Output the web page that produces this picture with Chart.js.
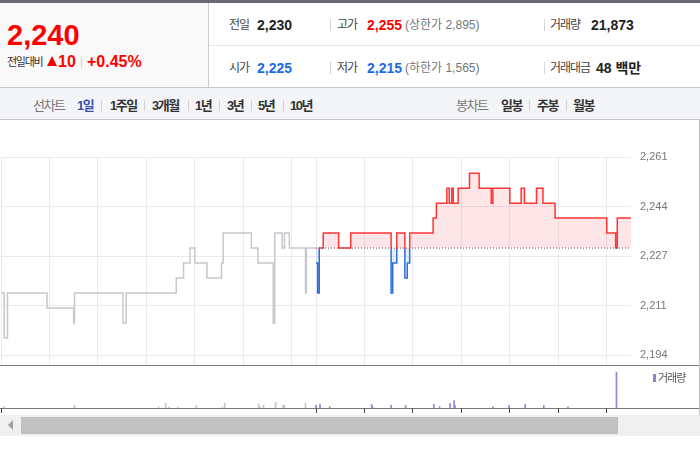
<!DOCTYPE html>
<html><head><meta charset="utf-8">
<script src="https://cdn.jsdelivr.net/npm/chart.js@4"></script>
<style>
body{margin:0;width:700px;height:450px;overflow:hidden;background:#fff;position:relative;font-family:"Liberation Sans","Noto Sans CJK KR",sans-serif}
div,span{position:absolute;white-space:nowrap;line-height:1}
.lb{font-size:12px;color:#444;letter-spacing:-1px}
.v{font-size:14px;font-weight:bold;color:#222}
.g{font-size:12px;color:#777}
.sep{width:1px;background:#d6d6d6}
.tab{font-size:13px;font-weight:bold;color:#333;letter-spacing:-1.5px;top:99px}
.tsep{width:1px;height:11px;top:100px;background:#d3d3d3}
</style></head>
<body>
<!-- header -->
<div style="left:0;top:0;width:700px;height:3px;background:#676a70"></div>
<div style="left:0;top:3px;width:208px;height:85px;background:#f9f9f9"></div>
<div style="left:208px;top:3px;width:1px;height:85px;background:#cccccc"></div>
<div style="left:209px;top:45px;width:491px;height:1px;background:#e6e6e6"></div>
<div style="left:0;top:87px;width:700px;height:1px;background:#c8c8c8"></div>

<div style="left:7px;top:20.5px;font-size:29px;font-weight:bold;color:#f00">2,240</div>
<div style="left:7px;top:56.7px;font-size:11px;color:#333;letter-spacing:-1.3px">전일대비</div>
<div style="left:47px;top:56px;width:0;height:0;border-left:5.5px solid transparent;border-right:5.5px solid transparent;border-bottom:10.5px solid #f00"></div>
<div style="left:58px;top:53.5px;font-size:16px;font-weight:bold;color:#f00">10</div>
<div class="sep" style="left:81px;top:57px;height:11px"></div>
<div style="left:87px;top:53.5px;font-size:16px;font-weight:bold;color:#f00">+0.45%</div>

<div class="lb" style="left:229px;top:19.3px">전일</div>
<div class="v" style="left:257px;top:17.7px">2,230</div>
<div class="sep" style="left:330px;top:19px;height:12px"></div>
<div class="lb" style="left:337px;top:19.3px">고가</div>
<div class="v" style="left:367px;top:17.7px;color:#f00">2,255</div>
<div class="g" style="left:405px;top:19.3px">(상한가 2,895)</div>
<div class="sep" style="left:544px;top:19px;height:12px"></div>
<div class="lb" style="left:550px;top:19.3px">거래량</div>
<div class="v" style="left:591px;top:17.7px">21,873</div>

<div class="lb" style="left:229px;top:62.1px">시가</div>
<div class="v" style="left:257px;top:60.5px;color:#1a6be6">2,225</div>
<div class="sep" style="left:330px;top:62px;height:12px"></div>
<div class="lb" style="left:337px;top:62.1px">저가</div>
<div class="v" style="left:367px;top:60.5px;color:#1a6be6">2,215</div>
<div class="g" style="left:405px;top:62.1px">(하한가 1,565)</div>
<div class="sep" style="left:544px;top:62px;height:12px"></div>
<div class="lb" style="left:550px;top:62.1px">거래대금</div>
<div class="v" style="left:596px;top:60.5px">48 백만</div>

<!-- tab bar -->
<div style="left:0;top:88px;width:700px;height:31px;background:#f4f5f8"></div>
<div style="left:0;top:119px;width:700px;height:1px;background:#c8c8c8"></div>
<div class="tab" style="left:33px;color:#777;font-weight:normal">선차트</div>
<div class="tab" style="left:77px;color:#3a52a4">1일</div>
<div class="tsep" style="left:101px"></div>
<div class="tab" style="left:110px">1주일</div>
<div class="tsep" style="left:144px"></div>
<div class="tab" style="left:152px">3개월</div>
<div class="tsep" style="left:188px"></div>
<div class="tab" style="left:195px">1년</div>
<div class="tsep" style="left:219px"></div>
<div class="tab" style="left:227px">3년</div>
<div class="tsep" style="left:251px"></div>
<div class="tab" style="left:258px">5년</div>
<div class="tsep" style="left:283px"></div>
<div class="tab" style="left:290px">10년</div>
<div class="tab" style="left:456px;color:#777;font-weight:normal">봉차트</div>
<div class="tab" style="left:501px">일봉</div>
<div class="tsep" style="left:529px"></div>
<div class="tab" style="left:537px">주봉</div>
<div class="tsep" style="left:566px"></div>
<div class="tab" style="left:573px">월봉</div>

<!-- chart panels -->
<div style="left:0;top:365px;width:700px;height:1px;background:#7a7a7a"></div>
<div style="left:0;top:408px;width:700px;height:1px;background:#7a7a7a"></div>
<div style="left:699px;top:120px;width:1px;height:295px;background:#c4c4c4"></div>
<canvas id="price" width="700" height="261" style="position:absolute;left:0;top:120px"></canvas>
<canvas id="vol" width="700" height="50" style="position:absolute;left:0;top:366px"></canvas>
<div style="left:653px;top:374px;width:3px;height:8px;background:#9585c8"></div>
<div style="left:658px;top:372.5px;font-size:11px;color:#555;letter-spacing:-1px">거래량</div>

<!-- scrollbar -->
<div style="left:0;top:415px;width:700px;height:21px;background:#f0f0f0"></div>
<div style="left:21px;top:417px;width:597px;height:17px;background:#c1c1c1"></div>
<div style="left:8px;top:420px;width:0;height:0;border-top:5px solid transparent;border-bottom:5px solid transparent;border-right:5px solid #a0a0a0"></div>

<script>
// ---- data ----
const prevClose = 2230;
const sessionLen = 390; // minutes per session (09:00-15:30)
// previous session: minute since 09:00 at which the price changed, and the new price
const prevTimes  = [0,4,8,57,90,91,151,155,217,226,234,240,255,273,275,310,318,337,339,348,351,357,377,378,390];
const prevPrices = [2215,2200,2215,2210,2205,2215,2205,2215,2220,2225,2230,2225,2220,2225,2235,2230,2225,2205,2235,2230,2235,2230,2215,2230,2230];
// today's session
const todayTimes  = [0,2,4,9,28,43,93,95,100,110,113,116,145,149,162,165,168,170,176,190,202,217,219,240,254,258,273,281,296,360,371,373,390];
const todayPrices = [2225,2215,2230,2235,2230,2235,2215,2225,2235,2220,2225,2235,2240,2245,2250,2245,2250,2245,2250,2255,2250,2245,2250,2245,2250,2245,2250,2245,2240,2235,2230,2240,2240];
// volumes
const prevVolTimes = [4,91,195,204,208,219,242,274,277,319,321,325,340,349,351,377];
const prevVolumes  = [340,700,260,1230,260,260,700,260,1230,970,260,700,1490,700,700,1230];
const todayVolTimes = [0,5,17,69,70,93,111,146,153,166,171,172,219,239,259,282,312,372];
const todayVolumes  = [680,930,330,930,250,680,680,930,330,1180,1930,680,330,680,930,680,330,9390];
// axes
const yMin = 2190.83, yMax = 2260.4;
const yTickValues = [2194.2, 2210.75, 2227.3, 2243.85, 2260.4];
const yTickLabels = ['2,194','2,211','2,227','2,244','2,261'];
const xGridMinutes = [0,60,120,180,240,300,360,390,450,510,570,630,690,750];
const xTickMinutes = [0,390,450,510,570,630,690,750];
const volMax = 11000;

const upColor = '#ff3434', downColor = '#2f6fd8', prevColor = '#c5c7cc';

const prevData = prevTimes.map((t,i)=>({x:t, y:prevPrices[i]}));
const todayData = todayTimes.map((t,i)=>({x:sessionLen+t, y:todayPrices[i]}));
const baseData = [{x:sessionLen, y:prevClose},{x:sessionLen*2, y:prevClose}];

function splitColor(c){
  const ch = c.chart, a = ch.chartArea;
  if (!a) return upColor;
  const y0 = ch.scales.y.getPixelForValue(prevClose);
  const g = ch.ctx.createLinearGradient(0, a.top, 0, a.bottom);
  const s = Math.min(1, Math.max(0, (y0 + 1.2 - a.top)/(a.bottom - a.top)));
  g.addColorStop(0, upColor); g.addColorStop(s, upColor);
  g.addColorStop(s, downColor); g.addColorStop(1, downColor);
  return g;
}

new Chart(document.getElementById('price'), {
  type:'line',
  data:{datasets:[
    {data:baseData, borderColor:'#555', borderWidth:1, borderDash:[1,2], pointRadius:0, fill:false},
    {data:todayData, borderColor:splitColor, borderWidth:1.5, pointRadius:0, stepped:'before',
      fill:{target:{value:prevClose}, above:'rgba(245,60,80,0.13)', below:'rgba(40,100,220,0.12)'}},
    {data:prevData, borderColor:prevColor, borderWidth:1.5, pointRadius:0, stepped:'before', fill:false}
  ]},
  options:{
    responsive:false, animation:false, events:[],
    layout:{autoPadding:false, padding:{left:1,right:0,top:37,bottom:0.8}},
    plugins:{legend:{display:false}, tooltip:{enabled:false}},
    scales:{
      x:{type:'linear', min:0, max:sessionLen*2,
        ticks:{display:false}, border:{display:false},
        grid:{color:'#ebebeb', drawTicks:false},
        afterBuildTicks:s=>{s.ticks = xGridMinutes.map(v=>({value:v}));},
        afterFit:s=>{s.height = 0;}},
      y:{type:'linear', position:'right', min:yMin, max:yMax,
        border:{display:false},
        grid:{color:'#ebebeb', drawTicks:false},
        ticks:{padding:9, color:'#777', font:{family:'Liberation Sans', size:11},
          callback:(v,i)=>yTickLabels[i]},
        afterBuildTicks:s=>{s.ticks = yTickValues.map(v=>({value:v}));},
        afterFit:s=>{s.width = 69;}}
    }
  }
});

new Chart(document.getElementById('vol'), {
  type:'bar',
  data:{datasets:[
    {data:todayVolTimes.map((t,i)=>({x:sessionLen+t, y:todayVolumes[i]})), backgroundColor:'#9585c8', barThickness:1, grouped:false},
    {data:prevVolTimes.map((t,i)=>({x:t, y:prevVolumes[i]})), backgroundColor:'#c2c4c9', barThickness:1, grouped:false}
  ]},
  options:{
    responsive:false, animation:false, events:[],
    layout:{autoPadding:false, padding:{left:1,right:69,top:0,bottom:0}},
    plugins:{legend:{display:false}, tooltip:{enabled:false}},
    scales:{
      x:{type:'linear', min:0, max:sessionLen*2, offset:false,
        ticks:{display:false}, border:{display:false},
        grid:{display:true, offset:false, drawOnChartArea:false, drawTicks:true, tickLength:5, tickColor:'#444'},
        afterBuildTicks:s=>{s.ticks = xTickMinutes.map(v=>({value:v}));},
        afterFit:s=>{s.height = 8;}},
      y:{display:false, min:0, max:volMax}
    }
  }
});
</script>
</body></html>
